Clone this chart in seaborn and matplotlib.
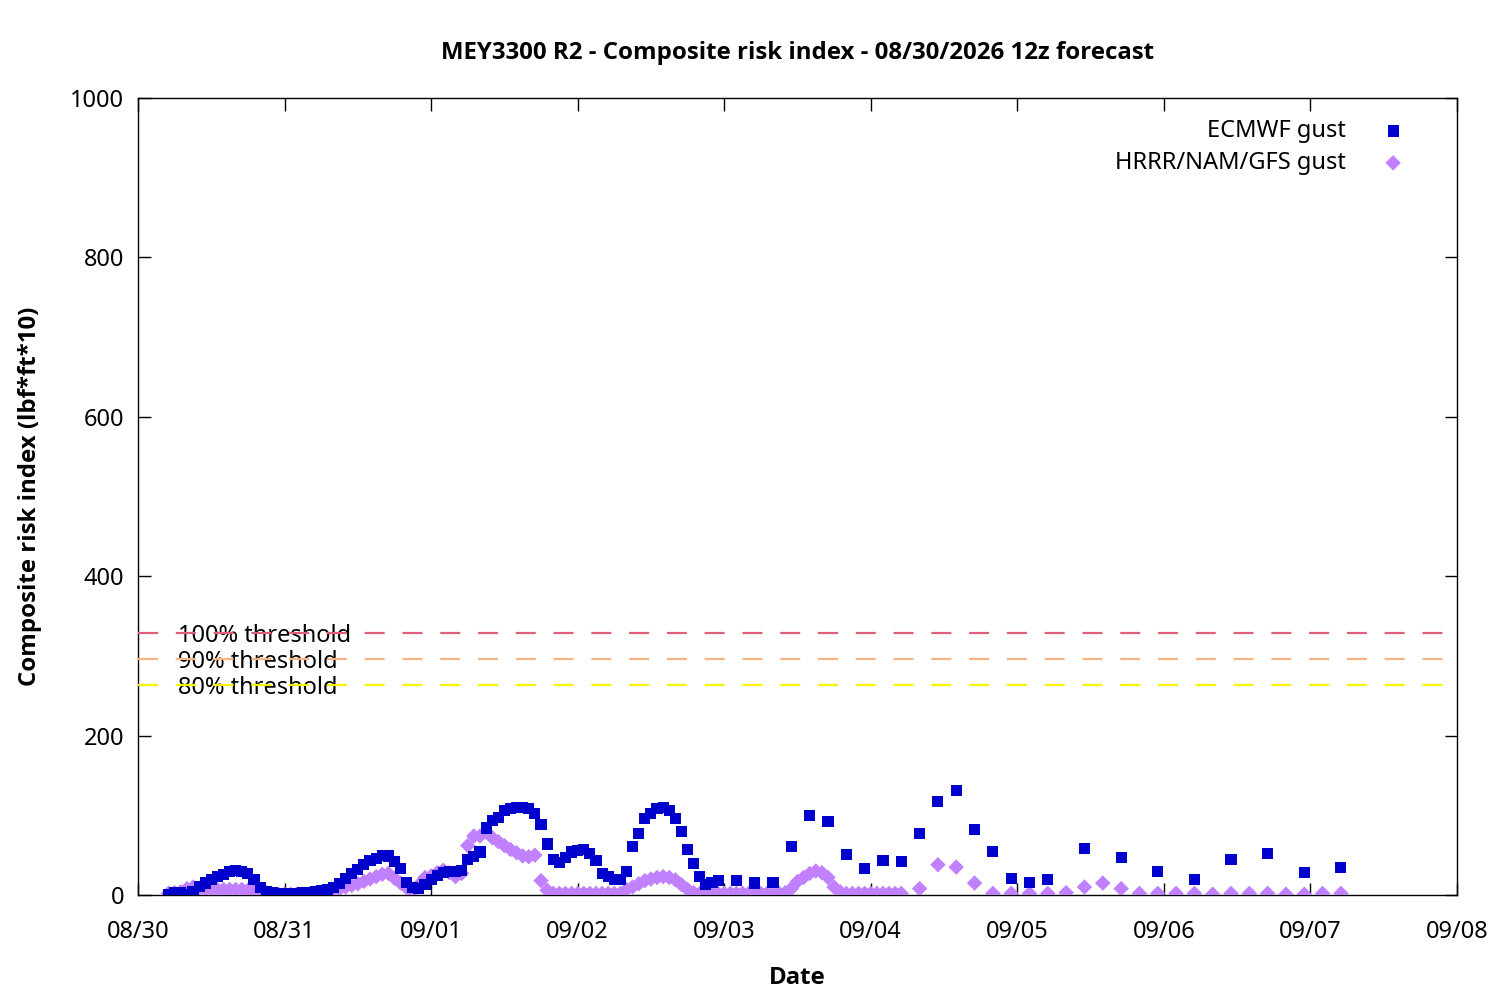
import pandas as pd
import seaborn as sns
import matplotlib.pyplot as plt
import matplotlib.dates as mdates

# forecast hours (local time, from 08/30 00:00)
ecmwf_hours = list(range(5, 96)) + list(range(98, 150, 3)) + list(range(155, 198, 6))
ecmwf_risk = [
    1, 3, 3, 1, 4, 11, 15, 19, 23, 26, 29, 31, 30, 27, 19, 9, 4, 3, 2, 2,
    2, 2, 3, 3, 4, 5, 7, 9, 14, 21, 27, 32, 38, 43, 46, 50, 49, 42, 33, 16,
    9, 8, 13, 20, 25, 28, 29, 30, 31, 44, 48, 54, 84, 93, 97, 106, 108, 110, 110, 108,
    102, 89, 64, 45, 41, 47, 54, 56, 57, 52, 43, 27, 23, 20, 20, 30, 61, 77, 96, 102,
    108, 110, 106, 96, 80, 57, 39, 23, 13, 16, 18,
    18, 15, 16, 61, 100, 92, 51, 33, 43, 42, 77, 117, 131, 82, 55, 21, 16, 20,
    58, 47, 30, 20, 45, 52, 28, 35,
]

hrrr_hours = list(range(5, 126)) + list(range(128, 198, 3))
hrrr_risk = [
    2, 3, 4, 8, 10, 8, 7, 7, 7, 7, 7, 7, 7, 6, 6, 5, 3, 1, 1, 1,
    1, 1, 1, 1, 1, 2, 3, 5, 8, 10, 12, 14, 17, 20, 23, 26, 27, 21, 15, 9,
    4, 13, 22, 24, 28, 31, 28, 23, 27, 62, 74, 74, 79, 72, 67, 62, 57, 53, 49, 48,
    50, 18, 6, 2, 2, 2, 2, 2, 2, 2, 2, 2, 2, 2, 2, 7, 10, 14, 18, 20,
    22, 23, 22, 19, 13, 7, 3, 2, 2, 2, 2, 2, 2, 2, 2, 2, 2, 2, 2, 2,
    2, 3, 8, 17, 22, 27, 30, 28, 22, 10, 4, 2, 2, 2, 2, 2, 2, 2, 2, 2,
    2,
    8, 38, 35, 15, 2, 2, 2, 2, 3, 10, 15, 8, 2, 2, 2, 2, 1, 2, 2, 2, 1, 1, 2, 2,
]

threshold_full = 329
threshold_levels = [1.0, 0.9, 0.8]
threshold_labels = ['100% threshold', '90% threshold', '80% threshold']
threshold_colors = ['#e0607a', '#f8b483', '#f5f500']

start = pd.Timestamp('2026-08-30 00:00')
ecmwf = pd.DataFrame({'time': start + pd.to_timedelta(ecmwf_hours, unit='h'),
                      'risk': ecmwf_risk})
hrrr = pd.DataFrame({'time': start + pd.to_timedelta(hrrr_hours, unit='h'),
                     'risk': hrrr_risk})

sns.set_style('ticks')
plt.rcParams['font.family'] = ['Noto Sans', 'DejaVu Sans']
plt.rcParams['font.size'] = 17
plt.rcParams['text.color'] = 'black'
plt.rcParams['axes.labelcolor'] = 'black'
bold_font = ['Open Sans', 'DejaVu Sans']

fig = plt.figure(figsize=(15, 10), dpi=100)
ax = fig.add_axes([0.092, 0.105, 0.8793, 0.797])

# threshold lines with their labels
for lev, lab, col in zip(threshold_levels, threshold_labels, threshold_colors):
    y = threshold_full * lev
    ax.axhline(y, color=col, lw=1.6, dashes=(9, 8), zorder=3)
    ax.text(pd.Timestamp('2026-08-30 06:30'), y, lab, va='center_baseline', ha='left',
            fontsize=17, color='black', zorder=2)

sns.scatterplot(data=hrrr, x='time', y='risk', marker='D', s=62, color='#c080ff',
                edgecolor='none', ax=ax, zorder=4, label='HRRR/NAM/GFS gust')
sns.scatterplot(data=ecmwf, x='time', y='risk', marker='s', s=64, color='#0000cc',
                edgecolor='none', ax=ax, zorder=5, label='ECMWF gust')

ax.set_xlim(start, pd.Timestamp('2026-09-08 00:00'))
ax.set_ylim(0, 1000)
ax.set_yticks(range(0, 1001, 200))
ax.xaxis.set_major_locator(mdates.DayLocator())
ax.xaxis.set_major_formatter(mdates.DateFormatter('%m/%d'))
ax.tick_params(direction='in', length=9, width=1, top=True, right=True,
               labelsize=17, colors='black')
ax.tick_params(axis='x', pad=18)
ax.tick_params(axis='y', pad=10)
for sp in ax.spines.values():
    sp.set_color('black')
    sp.set_linewidth(1)

ax.set_title('MEY3300 R2 - Composite risk index - 08/30/2026 12z forecast',
             fontsize=17.3, fontweight='bold', family=bold_font, pad=28,
             color='black')
ax.set_xlabel('Date', fontsize=17.3, fontweight='bold', family=bold_font, labelpad=16)
ax.set_ylabel('Composite risk index (lbf*ft*10)', fontsize=17.3, fontweight='bold',
              family=bold_font, labelpad=20)

handles, labels = ax.get_legend_handles_labels()
order = [labels.index('ECMWF gust'), labels.index('HRRR/NAM/GFS gust')]
ax.legend([handles[i] for i in order], [labels[i] for i in order],
          loc='upper right', frameon=False, markerfirst=False, fontsize=17,
          bbox_to_anchor=(0.9856, 1.0), handletextpad=1.0, labelspacing=0.33)

fig.savefig('out.png', dpi=100)
